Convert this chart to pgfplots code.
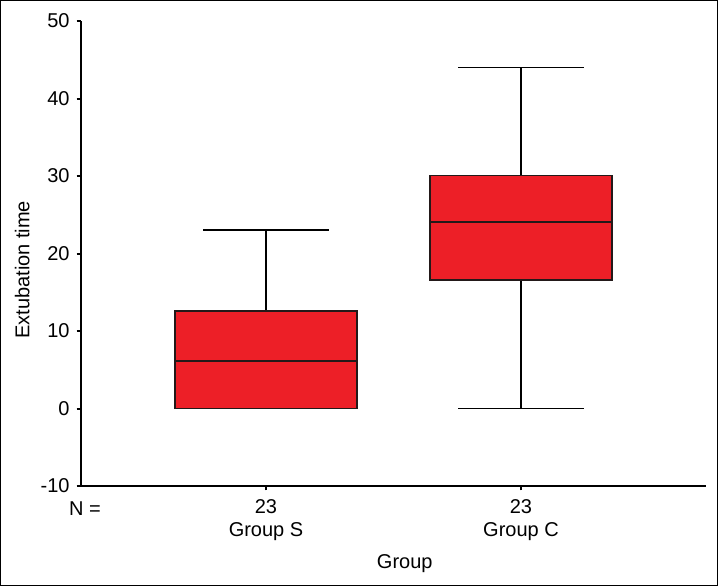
\documentclass[border=0pt]{standalone}
\usepackage{fontspec}
\setmainfont{Liberation Sans}
\usepackage{pgfplots}
\pgfplotsset{compat=1.18}
\usepgfplotslibrary{statistics}
\definecolor{boxred}{RGB}{237,31,39}
\definecolor{edge}{RGB}{35,25,25}

\begin{document}
\begin{tikzpicture}
\useasboundingbox (0,0) rectangle (359pt,293pt);
\draw[line width=0.6pt] (0.3pt,0.3pt) rectangle (358.7pt,292.7pt);
\begin{axis}[
  at={(40.5pt,50pt)}, anchor=south west,
  scale only axis,
  width=312.5pt, height=232.5pt,
  font=\fontsize{10}{11.5}\selectfont,
  axis lines=left,
  axis line style={-, line width=1pt},
  tick align=outside,
  major tick length=2.2pt,
  every tick/.style={black, line width=1pt},
  xmin=0.2745, xmax=2.7255,
  ymin=-10, ymax=50,
  ytick={-10,0,10,20,30,40,50},
  xtick={1,2},
  xticklabels={23\\Group S, 23\\Group C},
  xticklabel style={align=center, yshift=-1pt},
  /pgf/number format/assume math mode=true,
  ylabel={Extubation time},
  ylabel style={at={(axis description cs:-0.094,0.465)}, anchor=center},
  xlabel={Group},
  xlabel style={at={(axis description cs:0.518,-0.166)}, anchor=center},
  clip=false,
  boxplot/draw direction=y,
  boxplot/box extend=0.714,
  boxplot/whisker extend=0.494,
  boxplot/every whisker/.style={black, line width=0.9pt},
  boxplot/every median/.style={draw=edge, line width=0.9pt},
]
\addplot[boxplot prepared={draw position=1, lower whisker=0, lower quartile=0,
  median=6.1, upper quartile=12.6, upper whisker=23},
  fill=boxred, draw=edge, line width=0.8pt] coordinates {};
\addplot[boxplot prepared={draw position=2, lower whisker=0, lower quartile=16.6,
  median=24.1, upper quartile=30.05, upper whisker=44},
  fill=boxred, draw=edge, line width=0.8pt] coordinates {};
\node[anchor=north, font=\fontsize{10}{11.5}\selectfont] at (axis cs:0.29,-10) [yshift=-4.2pt] {N =};
\end{axis}
\end{tikzpicture}
\end{document}
